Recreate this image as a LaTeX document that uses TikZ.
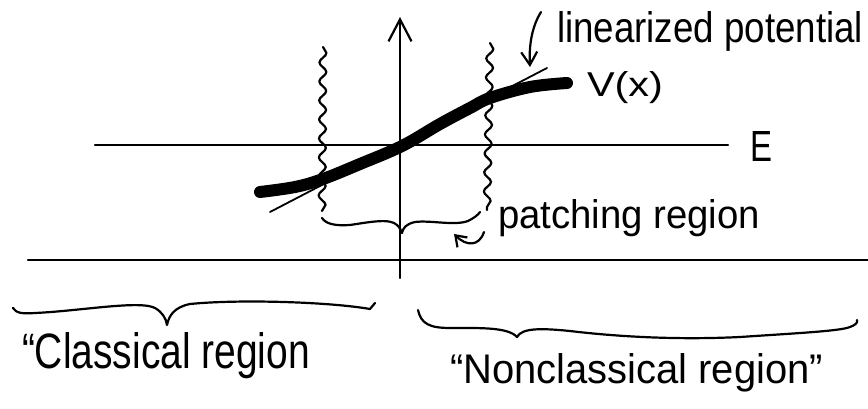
\documentclass[tikz,border=0pt]{standalone}
\usepackage{fontspec}
\setmainfont{Liberation Sans}
\usetikzlibrary{arrows.meta,decorations.pathmorphing}
\newcommand\hwtext[3]{\resizebox{#1}{#2}{#3}}
\begin{document}
\begin{tikzpicture}[x=1pt,y=-1pt,
  pen/.style={line width=2.2pt, line cap=round, line join=round},
  wavy/.style={pen, decorate, decoration={snake, segment length=19pt, amplitude=3.5pt}},
  txt/.style={anchor=base west, inner sep=0pt, outer sep=0pt}]
\useasboundingbox (0,0) rectangle (868,409);
% axes
\draw[pen] (95,145) -- (728,145);
\draw[pen] (28,260) -- (868,260);
\draw[pen, -{Straight Barb[length=22pt,width=23pt,line width=2.2pt]}] (400,278) -- (400,17);
% tangent (linearized potential)
\draw[pen, line width=1.8pt] (270,212) -- (547,68);
% thick potential
\draw[line width=12pt, line cap=round, line join=round] plot[smooth, tension=0.6] coordinates
  {(260,192) (295,187) (323,179) (360,164) (402,146) (440,124) (470,108) (490,98) (530,87) (567,83)};
% wavy patching boundaries
\draw[wavy] (323,47) -- (322,211);
\draw[wavy] (490,43) -- (487,210);
% patching brace
\draw[pen] (322,218) .. controls (326,224) and (335,226) .. (350,225)
  .. controls (370,222) and (390,218) .. (397,225)
  .. controls (400,228) and (401,230) .. (402,233)
  .. controls (403,228) and (406,224) .. (415,222)
  .. controls (430,220) and (455,226) .. (468,221)
  .. controls (474,218) and (478,215) .. (480,212);
% classical brace
\draw[pen] (13,308) .. controls (16,313) and (22,314) .. (35,313)
  .. controls (80,311) and (140,300) .. (155,308)
  .. controls (162,312) and (166,318) .. (167,325)
  .. controls (169,315) and (175,307) .. (190,304)
  .. controls (240,299) and (330,302) .. (370,309)
  -- (375,303);
% nonclassical brace
\draw[pen] (418,310) .. controls (421,324) and (430,328) .. (450,328)
  .. controls (480,328) and (508,327) .. (517,337)
  .. controls (522,328) and (540,328) .. (570,331)
  .. controls (620,337) and (680,340) .. (740,337)
  .. controls (800,333) and (840,331) .. (850,327)
  .. controls (856,325) and (858,322) .. (857,320);
% labels
\node[txt] (lin) at (557,43) {\hwtext{306pt}{31pt}{linearized potential}};
\node[txt] (vx) at (587,97) {\hwtext{76pt}{25pt}{V(x)}};
\node[txt] (E) at (750,162) {\hwtext{22pt}{30pt}{E}};
\node[txt] (patch) at (498,229) {\hwtext{262pt}{29pt}{patching region}};
\node[txt] (cl) at (22,368) {\hwtext{288pt}{36pt}{``Classical region}};
\node[txt] (ncl) at (450,383) {\hwtext{373pt}{30pt}{``Nonclassical region''}};
% pointer arrows
\coordinate (linstart) at (541,12);
\coordinate (lintip) at (530,67);
\draw[pen, -{Straight Barb[length=13pt,width=16pt,line width=2.2pt]}] (linstart) .. controls (531,28) and (529,48) .. (lintip);
\coordinate (pstart) at (484,232);
\coordinate (ptip) at (454,234);
\draw[pen, -{Straight Barb[length=10pt,width=14pt,line width=2.2pt]}] (pstart) .. controls (479,247) and (466,246) .. (ptip);
\end{tikzpicture}
\end{document}
